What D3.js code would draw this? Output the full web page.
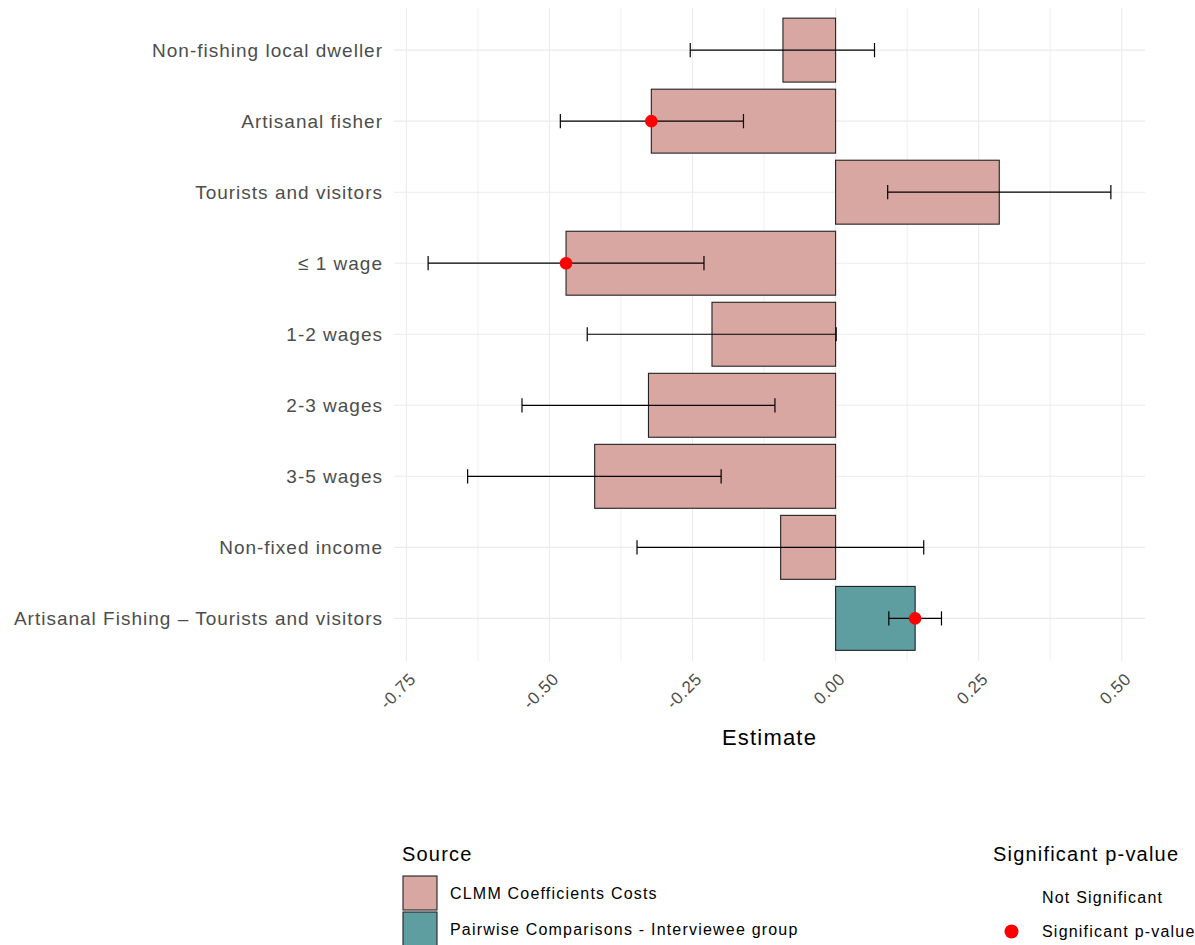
<!DOCTYPE html>
<html>
<head>
<meta charset="utf-8">
<script src="https://cdn.jsdelivr.net/npm/d3@7"></script>
<style>
  html, body { margin: 0; padding: 0; background: #fff; }
  text { font-family: "Liberation Sans", Arial, sans-serif; }
</style>
</head>
<body>
<svg id="chart" width="1195" height="945"></svg>
<script>
// Terms, top to bottom
const terms = [
  "Non-fishing local dweller",
  "Artisanal fisher",
  "Tourists and visitors",
  "\u2264 1 wage",
  "1-2 wages",
  "2-3 wages",
  "3-5 wages",
  "Non-fixed income",
  "Artisanal Fishing \u2013 Tourists and visitors"
];
const estimates = [-0.092, -0.322, 0.286, -0.471, -0.216, -0.327, -0.421, -0.096, 0.139];
const lowerCI   = [-0.254, -0.481, 0.091, -0.712, -0.434, -0.548, -0.643, -0.347, 0.093];
const upperCI   = [ 0.068, -0.161, 0.481, -0.230,  0.001, -0.106, -0.200,  0.154, 0.185];
const sources   = ["CLMM Coefficients Costs", "CLMM Coefficients Costs", "CLMM Coefficients Costs",
                   "CLMM Coefficients Costs", "CLMM Coefficients Costs", "CLMM Coefficients Costs",
                   "CLMM Coefficients Costs", "CLMM Coefficients Costs",
                   "Pairwise Comparisons - Interviewee group"];
const significance = ["Not Significant", "Significant p-value", "Not Significant",
                      "Significant p-value", "Not Significant", "Not Significant",
                      "Not Significant", "Not Significant", "Significant p-value"];

const sourceLevels = ["CLMM Coefficients Costs", "Pairwise Comparisons - Interviewee group"];
const sourceColors = ["#D8A7A2", "#5F9EA0"];
const sigLevels = ["Not Significant", "Significant p-value"];
const xTicks = [-0.75, -0.5, -0.25, 0, 0.25, 0.5];
const xTickLabels = ["-0.75", "-0.50", "-0.25", "0.00", "0.25", "0.50"];
const xMinorTicks = [-0.625, -0.375, -0.125, 0.125, 0.375];

const rows = terms.map((t, i) => ({
  term: t, est: estimates[i], lo: lowerCI[i], hi: upperCI[i],
  source: sources[i], sig: significance[i]
}));

const svg = d3.select("#chart");
const panel = { left: 394, right: 1145, top: 7.5, bottom: 661 };

// x domain: data extent with 5% expansion on each side
const lo = d3.min(rows, d => Math.min(d.lo, d.est, 0));
const hi = d3.max(rows, d => Math.max(d.hi, d.est, 0));
const pad = (hi - lo) * 0.05;
const x = d3.scaleLinear().domain([lo - pad, hi + pad]).range([panel.left, panel.right]);
const y = d3.scalePoint().domain(terms).range([panel.top, panel.bottom]).padding(0.6);
const step = y.step();
const fill = d3.scaleOrdinal().domain(sourceLevels).range(sourceColors);

// grid
const grid = svg.append("g");
grid.selectAll("line.minor").data(xMinorTicks).join("line")
  .attr("x1", d => x(d)).attr("x2", d => x(d))
  .attr("y1", panel.top).attr("y2", panel.bottom)
  .attr("stroke", "#EDEDED").attr("stroke-width", 0.9);
grid.selectAll("line.major").data(xTicks).join("line")
  .attr("x1", d => x(d)).attr("x2", d => x(d))
  .attr("y1", panel.top).attr("y2", panel.bottom)
  .attr("stroke", "#EBEBEB").attr("stroke-width", 1.1);
grid.selectAll("line.hy").data(terms).join("line")
  .attr("x1", panel.left).attr("x2", panel.right)
  .attr("y1", d => y(d)).attr("y2", d => y(d))
  .attr("stroke", "#EBEBEB").attr("stroke-width", 1.1);

// bars
const barH = step * 0.9;
svg.append("g").selectAll("rect").data(rows).join("rect")
  .attr("x", d => x(Math.min(0, d.est)))
  .attr("width", d => Math.abs(x(d.est) - x(0)))
  .attr("y", d => y(d.term) - barH / 2)
  .attr("height", barH)
  .attr("fill", d => fill(d.source))
  .attr("stroke", "#222")
  .attr("stroke-width", 1.1);

// error bars
const capH = step * 0.2;
const eb = svg.append("g").attr("stroke", "#000").attr("stroke-width", 1.2).attr("fill", "none");
rows.forEach(d => {
  const cy = y(d.term);
  eb.append("line").attr("x1", x(d.lo)).attr("x2", x(d.hi)).attr("y1", cy).attr("y2", cy);
  eb.append("line").attr("x1", x(d.lo)).attr("x2", x(d.lo)).attr("y1", cy - capH / 2).attr("y2", cy + capH / 2);
  eb.append("line").attr("x1", x(d.hi)).attr("x2", x(d.hi)).attr("y1", cy - capH / 2).attr("y2", cy + capH / 2);
});

// significance points
svg.append("g").selectAll("circle").data(rows.filter(d => d.sig === "Significant p-value")).join("circle")
  .attr("cx", d => x(d.est)).attr("cy", d => y(d.term)).attr("r", 6.3)
  .attr("fill", "#FF0000");

// y axis labels
svg.append("g").selectAll("text").data(terms).join("text")
  .attr("x", 383).attr("y", d => y(d)).attr("dy", "0.35em")
  .attr("text-anchor", "end")
  .attr("fill", "#4D4D4D").attr("font-size", 19).attr("letter-spacing", 1)
  .text(d => d);

// x axis labels, rotated
const xAxis = d3.axisBottom(x).tickValues(xTicks)
  .tickFormat((d, i) => xTickLabels[i]).tickSize(0);
const gx = svg.append("g").attr("transform", `translate(0,${panel.bottom})`).call(xAxis);
gx.select(".domain").remove();
gx.selectAll("text")
  .attr("fill", "#4D4D4D").attr("font-size", 17).attr("letter-spacing", 0.7)
  .attr("font-family", "Liberation Sans, Arial, sans-serif")
  .attr("text-anchor", "end")
  .attr("y", 0).attr("dy", 0)
  .attr("transform", "translate(10,19) rotate(-45)");

svg.append("text")
  .attr("x", (panel.left + panel.right) / 2).attr("y", 745)
  .attr("text-anchor", "middle").attr("font-size", 22).attr("letter-spacing", 1.2)
  .attr("fill", "#000").text("Estimate");

// legend: Source
const lg1 = svg.append("g");
lg1.append("text").attr("x", 402).attr("y", 861).attr("font-size", 20).attr("letter-spacing", 1.2)
  .attr("fill", "#000").text("Source");
sourceLevels.forEach((s, i) => {
  const top = 876 + i * 36;
  lg1.append("rect").attr("x", 403).attr("y", top).attr("width", 34).attr("height", 34)
    .attr("fill", fill(s)).attr("stroke", "#222").attr("stroke-width", 1.1);
  lg1.append("text").attr("x", 450).attr("y", top + 17).attr("dy", "0.35em")
    .attr("font-size", 16).attr("letter-spacing", 1.2).attr("fill", "#000").text(s);
});

// legend: significance
const lg2 = svg.append("g");
lg2.append("text").attr("x", 993).attr("y", 861).attr("font-size", 20).attr("letter-spacing", 1.2)
  .attr("fill", "#000").text("Significant p-value");
sigLevels.forEach((s, i) => {
  const cy = 897 + i * 34.5;
  if (s === "Significant p-value") {
    lg2.append("circle").attr("cx", 1011.5).attr("cy", cy).attr("r", 7).attr("fill", "#FF0000");
  }
  lg2.append("text").attr("x", 1042).attr("y", cy).attr("dy", "0.35em")
    .attr("font-size", 16).attr("letter-spacing", 1.2).attr("fill", "#000").text(s);
});
</script>
</body>
</html>
